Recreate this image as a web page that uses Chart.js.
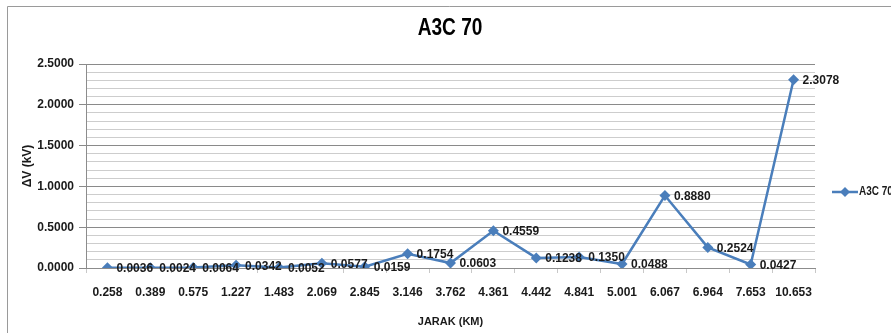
<!DOCTYPE html>
<html>
<head>
<meta charset="utf-8">
<script src="https://cdn.jsdelivr.net/npm/chart.js@4/dist/chart.umd.min.js"></script>
<style>
  html, body { margin: 0; padding: 0; background: #fff; }
  #wrap { width: 891px; height: 333px; position: relative; }
</style>
</head>
<body>
<div id="wrap"><canvas id="c" width="891" height="333"></canvas></div>
<script>
// Distance along the feeder (km) and voltage drop (kV) at each point
const jarak = ['0.258', '0.389', '0.575', '1.227', '1.483', '2.069', '2.845', '3.146', '3.762',
               '4.361', '4.442', '4.841', '5.001', '6.067', '6.964', '7.653', '10.653'];
const deltaV = [0.0036, 0.0024, 0.0064, 0.0342, 0.0052, 0.0577, 0.0159, 0.1754, 0.0603,
                0.4559, 0.1238, 0.1350, 0.0488, 0.8880, 0.2524, 0.0427, 2.3078];
const seriesName = 'A3C 70';
const chartTitle = 'A3C 70';
const yTicks = [0, 0.5, 1.0, 1.5, 2.0, 2.5];

const LINE = '#4A7EBB';
const FONT = "'Liberation Sans', Arial, sans-serif";
const TEXT = '#1a1a1a';

// Condensed text helper: draws text squeezed horizontally
function condensedText(ctx, text, x, y, font, squeeze, align) {
  ctx.save();
  ctx.font = font;
  ctx.textBaseline = 'middle';
  ctx.textAlign = align;
  ctx.translate(x, y);
  ctx.scale(squeeze, 1);
  ctx.fillText(text, 0, 0);
  ctx.restore();
}

// White background, the thin outer frame and the heading
const framePlugin = {
  id: 'frame',
  beforeDraw(chart) {
    const ctx = chart.ctx;
    ctx.save();
    ctx.fillStyle = '#fff';
    ctx.fillRect(0, 0, chart.width, chart.height);
    ctx.strokeStyle = '#9a9a9a';
    ctx.lineWidth = 1;
    ctx.beginPath();
    ctx.moveTo(7.5, chart.height);
    ctx.lineTo(7.5, 6.5);
    ctx.lineTo(chart.width, 6.5);
    ctx.stroke();
    ctx.fillStyle = '#000';
    condensedText(ctx, chartTitle, 450, 29, 'bold 23px ' + FONT, 0.83, 'center');
    ctx.restore();
  }
};

// Value labels to the right of each marker
const valueLabels = {
  id: 'valueLabels',
  afterDatasetsDraw(chart) {
    const ctx = chart.ctx;
    const meta = chart.getDatasetMeta(0);
    const data = chart.data.datasets[0].data;
    ctx.save();
    ctx.font = 'bold 12px ' + FONT;
    ctx.fillStyle = TEXT;
    ctx.textAlign = 'left';
    ctx.textBaseline = 'middle';
    meta.data.forEach((pt, i) => {
      ctx.fillText(data[i].toFixed(4), pt.x + 9, pt.y + 1);
    });
    ctx.restore();
  }
};

// Legend entry at the right: line segment with a diamond and the series name
const sideLegend = {
  id: 'sideLegend',
  afterDraw(chart) {
    const ctx = chart.ctx;
    const ds = chart.data.datasets[0];
    const x0 = 832, x1 = 858, y = 192;
    const cx = (x0 + x1) / 2, r = 5;
    ctx.save();
    ctx.strokeStyle = ds.borderColor;
    ctx.lineWidth = 2.5;
    ctx.beginPath();
    ctx.moveTo(x0, y);
    ctx.lineTo(x1, y);
    ctx.stroke();
    ctx.fillStyle = ds.borderColor;
    ctx.beginPath();
    ctx.moveTo(cx, y - r); ctx.lineTo(cx + r, y); ctx.lineTo(cx, y + r); ctx.lineTo(cx - r, y); ctx.closePath();
    ctx.fill();
    ctx.fillStyle = TEXT;
    condensedText(ctx, ds.label, x1 + 1, y, 'bold 12.5px ' + FONT, 0.8, 'left');
    ctx.restore();
  }
};

new Chart(document.getElementById('c'), {
  type: 'line',
  data: {
    labels: jarak,
    datasets: [{
      label: seriesName,
      data: deltaV,
      borderColor: LINE,
      backgroundColor: LINE,
      borderWidth: 2.5,
      pointStyle: 'rectRot',
      pointRadius: 5.5,
      pointHoverRadius: 5.5,
      pointBackgroundColor: LINE,
      pointBorderColor: LINE,
      pointBorderWidth: 0,
      tension: 0,
      fill: false
    }]
  },
  options: {
    responsive: false,
    animation: false,
    events: [],
    layout: { padding: { left: 8, right: 76, top: 64, bottom: 0 } },
    plugins: {
      legend: { display: false },
      tooltip: { enabled: false },
      title: { display: false }
    },
    scales: {
      x: {
        type: 'category',
        offset: true,
        grid: {
          offset: true,
          drawOnChartArea: false,
          drawTicks: true,
          tickLength: 5,
          tickColor: '#c8c8c8'
        },
        border: { display: true, color: '#8c8c8c', width: 1 },
        ticks: {
          color: TEXT,
          font: { family: FONT, size: 12, weight: 'bold' },
          padding: 12,
          maxRotation: 0,
          autoSkip: false
        },
        title: {
          display: true,
          text: 'JARAK (KM)',
          color: TEXT,
          font: { family: FONT, size: 11, weight: 'bold' },
          padding: { top: 0, bottom: 4 }
        },
        afterFit(scale) { scale.height = 65; }
      },
      y: {
        min: 0,
        max: 2.5,
        afterBuildTicks(scale) {
          const t = [];
          for (let i = 0; i <= 25; i++) t.push({ value: i / 10 });
          scale.ticks = t;
        },
        grid: {
          color: (c) => (Math.round(c.tick.value * 10) % 5 === 0 ? '#8a8a8a' : '#cdcdcd'),
          tickColor: (c) => (Math.round(c.tick.value * 10) % 5 === 0 ? '#8a8a8a' : 'rgba(0,0,0,0)'),
          tickLength: 7,
          lineWidth: 1
        },
        border: { display: true, color: '#8c8c8c', width: 1 },
        ticks: {
          color: TEXT,
          font: { family: FONT, size: 12, weight: 'bold' },
          padding: 5,
          autoSkip: false,
          callback: (v) => (yTicks.some(t => Math.abs(t - v) < 1e-9) ? Number(v).toFixed(4) : '')
        },
        title: {
          display: true,
          text: 'ΔV (kV)',
          color: TEXT,
          font: { family: FONT, size: 12, weight: 'bold' },
          padding: { top: 12, bottom: 0 }
        },
        afterFit(scale) { scale.width = 78; }
      }
    }
  },
  plugins: [framePlugin, valueLabels, sideLegend]
});
</script>
</body>
</html>
